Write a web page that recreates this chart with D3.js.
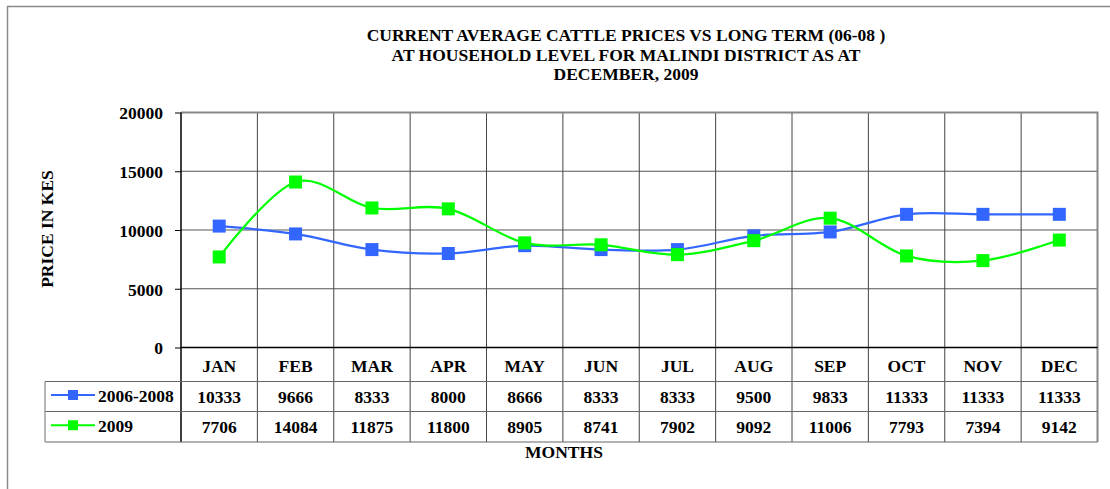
<!DOCTYPE html>
<html>
<head>
<meta charset="utf-8">
<script src="https://cdn.jsdelivr.net/npm/d3@7"></script>
<style>
  html, body { margin: 0; padding: 0; background: #fff; }
  svg text { font-family: "Liberation Serif", "Times New Roman", serif; font-weight: bold; fill: #000; }
</style>
</head>
<body>
<svg id="chart" width="1110" height="489"></svg>
<script>
// Chart data
const months = ['JAN', 'FEB', 'MAR', 'APR', 'MAY', 'JUN', 'JUL', 'AUG', 'SEP', 'OCT', 'NOV', 'DEC'];
const longTerm = [10333, 9666, 8333, 8000, 8666, 8333, 8333, 9500, 9833, 11333, 11333, 11333];
const current = [7706, 14084, 11875, 11800, 8905, 8741, 7902, 9092, 11006, 7793, 7394, 9142];
const yTicks = [0, 5000, 10000, 15000, 20000];
const titleLines = [
  'CURRENT AVERAGE CATTLE PRICES VS LONG TERM (06-08 )',
  'AT HOUSEHOLD LEVEL FOR MALINDI DISTRICT AS AT',
  'DECEMBER, 2009'
];

const series = [
  { name: '2006-2008', values: longTerm, color: '#3366ff' },
  { name: '2009', values: current, color: '#00ff00' },
];

const svg = d3.select('#chart');
const FONT = 17.5;

// plot area
const plotL = 181, plotR = 1097.5, plotT = 112.5, plotB = 347.5;
// data table rows (header, row1, row2)
const rowEdges = [347.5, 381.5, 411.5, 442];
const legendLeft = 45;

const x = d3.scaleBand().domain(months).range([plotL, plotR]);
const y = d3.scaleLinear().domain([0, 20000]).range([plotB, plotT]);

// outer chart-area border (only top and left visible in the crop)
svg.append('path')
  .attr('d', 'M7.5,489V6.5H1110')
  .attr('fill', 'none')
  .attr('stroke', '#8a8a8a')
  .attr('stroke-width', 1.5);

// title
svg.append('g').selectAll('text')
  .data(titleLines)
  .join('text')
  .attr('x', 626)
  .attr('y', (d, i) => 41 + i * 19.5)
  .attr('text-anchor', 'middle')
  .attr('font-size', FONT)
  .text(d => d);

// horizontal gridlines
svg.append('g').selectAll('line')
  .data(yTicks.filter(t => t > 0 && t < 20000))
  .join('line')
  .attr('x1', plotL).attr('x2', plotR)
  .attr('y1', d => y(d)).attr('y2', d => y(d))
  .attr('stroke', '#555').attr('stroke-width', 1);

// vertical gridlines, continued down through the data table
svg.append('g').selectAll('line')
  .data(months.slice(1))
  .join('line')
  .attr('x1', d => x(d)).attr('x2', d => x(d))
  .attr('y1', plotT).attr('y2', rowEdges[3])
  .attr('stroke', '#444').attr('stroke-width', 1);

// top and right plot border (grey)
svg.append('path')
  .attr('d', `M${plotL},${plotT}H${plotR}V${rowEdges[3]}`)
  .attr('fill', 'none')
  .attr('stroke', '#888')
  .attr('stroke-width', 2);

// y axis
const yAxis = svg.append('g')
  .attr('transform', `translate(${plotL},0)`)
  .call(d3.axisLeft(y).tickValues(yTicks).tickSize(6).tickPadding(12).tickFormat(d3.format('d')));
yAxis.select('.domain').remove();
yAxis.selectAll('.tick line').attr('stroke', '#000');
yAxis.selectAll('.tick text')
  .attr('font-size', FONT)
  .attr('dy', '0.36em');
yAxis.attr('font-family', null).attr('font-size', null);

// axis lines (black)
svg.append('line')
  .attr('x1', plotL).attr('x2', plotL).attr('y1', plotT).attr('y2', rowEdges[3])
  .attr('stroke', '#000').attr('stroke-width', 1.5);
svg.append('line')
  .attr('x1', plotL).attr('x2', plotR).attr('y1', plotB).attr('y2', plotB)
  .attr('stroke', '#000').attr('stroke-width', 1.5);

// table horizontal lines
svg.append('g').selectAll('line')
  .data(rowEdges.slice(1))
  .join('line')
  .attr('x1', legendLeft).attr('x2', plotR)
  .attr('y1', d => d).attr('y2', d => d)
  .attr('stroke', '#666').attr('stroke-width', 1.2);
svg.append('line')
  .attr('x1', legendLeft).attr('x2', legendLeft)
  .attr('y1', rowEdges[1]).attr('y2', rowEdges[3])
  .attr('stroke', '#888').attr('stroke-width', 1.2);

// month labels (table header)
svg.append('g').selectAll('text')
  .data(months)
  .join('text')
  .attr('x', d => x(d) + x.bandwidth() / 2)
  .attr('y', 371.5)
  .attr('text-anchor', 'middle')
  .attr('font-size', FONT)
  .text(d => d);

// table rows
const rowBase = [402.5, 432.5];
series.forEach((s, i) => {
  const row = svg.append('g');
  row.selectAll('text')
    .data(s.values)
    .join('text')
    .attr('x', (d, j) => x(months[j]) + x.bandwidth() / 2)
    .attr('y', rowBase[i])
    .attr('text-anchor', 'middle')
    .attr('font-size', FONT)
    .text(d => d);

  // legend key
  const ky = (rowEdges[i + 1] + rowEdges[i + 2]) / 2 - 1.5;
  row.append('line')
    .attr('x1', 51).attr('x2', 95).attr('y1', ky).attr('y2', ky)
    .attr('stroke', s.color).attr('stroke-width', 2);
  row.append('rect')
    .attr('x', 68).attr('y', ky - 5).attr('width', 10).attr('height', 10)
    .attr('fill', s.color);
  row.append('text')
    .attr('x', 98).attr('y', rowBase[i] - 1)
    .attr('font-size', FONT)
    .text(s.name);
});

// smoothed lines + square markers
const line = d3.line()
  .x((d, i) => x(months[i]) + x.bandwidth() / 2)
  .y(d => y(d))
  .curve(d3.curveCardinal.tension(0));

series.forEach(s => {
  svg.append('path')
    .datum(s.values)
    .attr('d', line)
    .attr('fill', 'none')
    .attr('stroke', s.color)
    .attr('stroke-width', 2.2);
  svg.append('g').selectAll('rect')
    .data(s.values)
    .join('rect')
    .attr('x', (d, i) => x(months[i]) + x.bandwidth() / 2 - 6.5)
    .attr('y', d => y(d) - 6.5)
    .attr('width', 13).attr('height', 13)
    .attr('fill', s.color);
});

// axis titles
svg.append('text')
  .attr('transform', 'translate(53,229) rotate(-90)')
  .attr('text-anchor', 'middle')
  .attr('font-size', FONT)
  .text('PRICE IN KES');

svg.append('text')
  .attr('x', 564)
  .attr('y', 458)
  .attr('text-anchor', 'middle')
  .attr('font-size', FONT)
  .text('MONTHS');
</script>
</body>
</html>
